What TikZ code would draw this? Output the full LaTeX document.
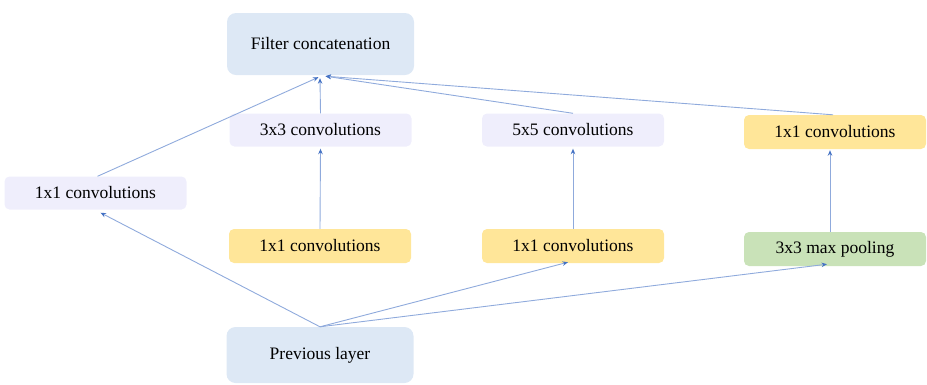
\documentclass[tikz,border=0pt]{standalone}
\usepackage{fontspec}
\setmainfont{Liberation Serif}
\usetikzlibrary{arrows.meta}
\definecolor{paleblue}{HTML}{DDE8F5}
\definecolor{lavender}{HTML}{EFEEFC}
\definecolor{softyellow}{HTML}{FFE699}
\definecolor{softgreen}{HTML}{C9E2B8}
\definecolor{linkblue}{HTML}{8FAADC}
\definecolor{tipblue}{HTML}{4472C4}
\tikzset{
  box/.style={rectangle, draw=none, inner sep=0pt, font=\fontsize{17.5}{20}\selectfont, text=black},
  bigbox/.style={box, fill=paleblue, rounded corners=9pt, minimum width=187pt, minimum height=62pt},
  convbox/.style={box, fill=lavender, rounded corners=5pt, minimum width=182pt, minimum height=33pt},
  reducebox/.style={box, fill=softyellow, rounded corners=5pt, minimum width=182pt, minimum height=34pt},
  poolbox/.style={box, fill=softgreen, rounded corners=5pt, minimum width=182pt, minimum height=34pt},
  link/.style={draw=linkblue, line width=0.9pt, -{Stealth[length=5.5pt,width=4.5pt,color=tipblue,fill=tipblue]}},
}
\begin{document}
\begin{tikzpicture}[x=1pt,y=-1pt]
\useasboundingbox (0,0) rectangle (927,384);

% output and input blocks
\node[bigbox] (filt) at (320.5,44) {Filter concatenation};
\node[bigbox, minimum height=56pt] (prev) at (320,355) {Previous layer};

% inception branches
\node[convbox] (b1) at (95.5,193) {1x1 convolutions};
\node[convbox] (c3) at (320.5,130) {3x3 convolutions};
\node[reducebox] (r3) at (320,246) {1x1 convolutions};
\node[convbox] (c5) at (573,130) {5x5 convolutions};
\node[reducebox] (r5) at (573,246) {1x1 convolutions};
\node[reducebox] (pp) at (835,132) {1x1 convolutions};
\node[poolbox] (mp) at (835,249) {3x3 max pooling};

% from the previous layer into each branch
\draw[link] (prev.north) -- ([xshift=5pt,yshift=-3pt]b1.south);
\draw[link] (prev.north) -- ([xshift=-5pt,yshift=1pt]r5.south);
\draw[link] (prev.north) -- ([xshift=-8pt,yshift=2pt]mp.south);

% inside each branch
\draw[link] (r3.north) -- ([yshift=-2pt]c3.south);
\draw[link] (r5.north) -- ([yshift=-2pt]c5.south);
\draw[link] ([xshift=-5pt]mp.north) -- ([xshift=-5pt,yshift=-1pt]pp.south);

% every branch into the concatenation
\draw[link] ([xshift=2pt]b1.north) -- ([xshift=-2pt,yshift=-2pt]filt.south);
\draw[link] (c3.north) -- ([xshift=-0.5pt,yshift=-3pt]filt.south);
\draw[link] (c5.north) -- ([xshift=5pt,yshift=-1pt]filt.south);
\draw[link] ([xshift=-2pt]pp.north) -- ([xshift=5pt,yshift=-1pt]filt.south);
\end{tikzpicture}
\end{document}
